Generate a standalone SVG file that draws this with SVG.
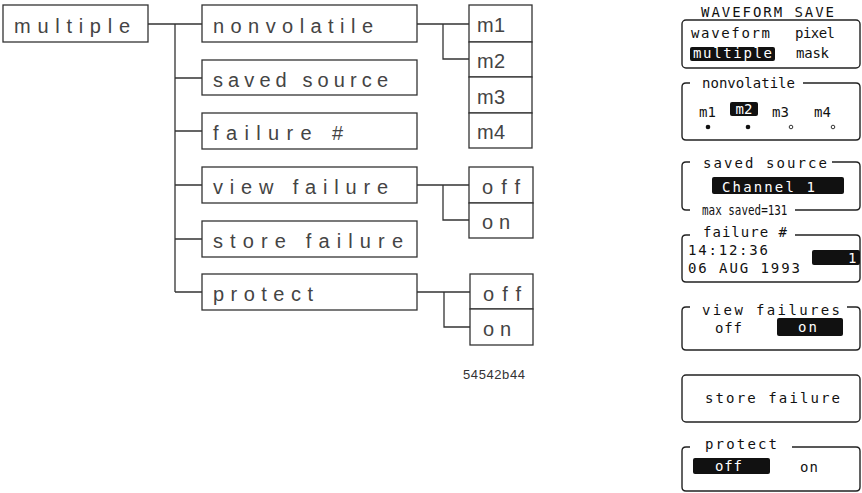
<svg xmlns="http://www.w3.org/2000/svg" width="862" height="493" viewBox="0 0 862 493">
<style>
.box{fill:#fff;stroke:#333;stroke-width:1.3}
.lbl{font-family:"Liberation Sans",Arial,sans-serif;font-size:20px;fill:#444}
.con{fill:none;stroke:#333;stroke-width:1.3}
.pb{fill:none;stroke:#222;stroke-width:1.4}
.lcd{font-family:"DejaVu Sans Mono",monospace;font-size:14px;fill:#111}
.inv{font-family:"DejaVu Sans Mono",monospace;font-size:14px;fill:#fff}
.hl{fill:#111}
.note{font-family:"Liberation Sans",Arial,sans-serif;font-size:13px;fill:#333}
</style>
<rect width="862" height="493" fill="#fff"/>
<g id="connectors">
<path class="con" d="M148,24 H202 M175,24 V292 M175,78 H202 M175,131 H202 M175,185 H202 M175,239 H202 M175,292 H202"/>
<path class="con" d="M417,24 H469 M443,24 V59 H469"/>
<path class="con" d="M417,185 H469 M443,185 V220 H469"/>
<path class="con" d="M417,292 H470 M444,292 V327 H470"/>
</g>
<g id="n-multiple"><rect class="box" x="3" y="5" width="145" height="37"/><text class="lbl" x="14" y="33" textLength="116" lengthAdjust="spacing">multiple</text></g>
<g id="n-nonvolatile"><rect class="box" x="202" y="5" width="215" height="37"/><text class="lbl" x="213" y="33" textLength="160" lengthAdjust="spacing">nonvolatile</text></g>
<g id="n-saved-source"><rect class="box" x="202" y="60" width="215" height="35"/><text class="lbl" x="213" y="87" textLength="175" lengthAdjust="spacing">saved source</text></g>
<g id="n-failure"><rect class="box" x="202" y="113" width="215" height="36"/><text class="lbl" x="213" y="140" textLength="130" lengthAdjust="spacing">failure #</text></g>
<g id="n-view-failure"><rect class="box" x="202" y="167" width="215" height="36"/><text class="lbl" x="213" y="194" textLength="175" lengthAdjust="spacing">view failure</text></g>
<g id="n-store-failure"><rect class="box" x="202" y="221" width="215" height="36"/><text class="lbl" x="213" y="248" textLength="190" lengthAdjust="spacing">store failure</text></g>
<g id="n-protect"><rect class="box" x="202" y="274" width="215" height="36"/><text class="lbl" x="213" y="301" textLength="100" lengthAdjust="spacing">protect</text></g>
<g id="n-m1"><rect class="box" x="469" y="5" width="63" height="37"/><text class="lbl" x="477" y="32" textLength="28" lengthAdjust="spacing">m1</text></g>
<g id="n-m2"><rect class="box" x="469" y="42" width="63" height="35"/><text class="lbl" x="477" y="68" textLength="28" lengthAdjust="spacing">m2</text></g>
<g id="n-m3"><rect class="box" x="469" y="77" width="63" height="36"/><text class="lbl" x="477" y="104" textLength="28" lengthAdjust="spacing">m3</text></g>
<g id="n-m4"><rect class="box" x="469" y="113" width="63" height="35"/><text class="lbl" x="477" y="139" textLength="28" lengthAdjust="spacing">m4</text></g>
<g id="n-vf-off"><rect class="box" x="469" y="167" width="64" height="36"/><text class="lbl" x="482" y="194" textLength="38" lengthAdjust="spacing">off</text></g>
<g id="n-vf-on"><rect class="box" x="469" y="203" width="64" height="35"/><text class="lbl" x="482" y="229" textLength="28" lengthAdjust="spacing">on</text></g>
<g id="n-pr-off"><rect class="box" x="470" y="274" width="63" height="35"/><text class="lbl" x="483" y="301" textLength="38" lengthAdjust="spacing">off</text></g>
<g id="n-pr-on"><rect class="box" x="470" y="309" width="63" height="36"/><text class="lbl" x="483" y="336" textLength="28" lengthAdjust="spacing">on</text></g>
<text class="note" x="463" y="379" textLength="62" lengthAdjust="spacing">54542b44</text>
<g id="panel">
<text class="lcd" x="701" y="17" textLength="133" lengthAdjust="spacing">WAVEFORM SAVE</text>
<rect class="pb" x="682" y="20" width="178" height="48" rx="4"/>
<text class="lcd" x="691" y="38" textLength="79" lengthAdjust="spacing">waveform</text>
<text class="lcd" x="795" y="38" textLength="40" lengthAdjust="spacing">pixel</text>
<rect class="hl" x="690" y="47" width="85" height="14" rx="2"/>
<text class="inv" x="693" y="58" textLength="79" lengthAdjust="spacing">multiple</text>
<text class="lcd" x="796" y="58" textLength="33" lengthAdjust="spacing">mask</text>

<path class="pb" d="M803,83 L856,83 Q860,83 860,87 L860,136 Q860,140 856,140 L686,140 Q682,140 682,136 L682,87 Q682,83 686,83 L690,83"/>
<text class="lcd" x="702" y="88" textLength="93" lengthAdjust="spacing">nonvolatile</text>
<text class="lcd" x="699" y="117">m1</text>
<rect class="hl" x="730" y="102" width="28" height="14" rx="2"/>
<text class="inv" x="735.5" y="114">m2</text>
<text class="lcd" x="772" y="117">m3</text>
<text class="lcd" x="814" y="117">m4</text>
<circle cx="708" cy="127" r="2.3" fill="#111"/>
<circle cx="748" cy="127" r="2.3" fill="#111"/>
<circle cx="791" cy="127" r="1.8" fill="none" stroke="#333" stroke-width="1"/>
<circle cx="833" cy="127" r="1.8" fill="none" stroke="#333" stroke-width="1"/>

<path class="pb" d="M832,162 L856,162 Q860,162 860,166 L860,206 Q860,210 856,210 L795,210 M690,210 L686,210 Q682,210 682,206 L682,166 Q682,162 686,162 L690,162"/>
<text class="lcd" x="703" y="168" textLength="124" lengthAdjust="spacing">saved source</text>
<rect class="hl" x="712" y="177" width="132" height="17" rx="2"/>
<text class="inv" x="722" y="192" textLength="93" lengthAdjust="spacing">Channel 1</text>
<text class="lcd" transform="translate(702,215) scale(0.78,1)" x="0" y="0">max saved=131</text>

<path class="pb" d="M795,235 L856,235 Q860,235 860,239 L860,278 Q860,282 856,282 L686,282 Q682,282 682,278 L682,239 Q682,235 686,235 L690,235"/>
<text class="lcd" x="703" y="237" textLength="84" lengthAdjust="spacing">failure #</text>
<text class="lcd" x="688" y="255" textLength="80" lengthAdjust="spacing">14:12:36</text>
<text class="lcd" x="688" y="273" textLength="112" lengthAdjust="spacing">06 AUG 1993</text>
<rect class="hl" x="812" y="250" width="48" height="15" rx="2"/>
<text class="inv" x="848" y="263">1</text>

<path class="pb" d="M847,307 L856,307 Q860,307 860,311 L860,346 Q860,350 856,350 L686,350 Q682,350 682,346 L682,311 Q682,307 686,307 L690,307"/>
<text class="lcd" x="702" y="315" textLength="138" lengthAdjust="spacing">view failures</text>
<text class="lcd" x="715" y="333" textLength="27" lengthAdjust="spacing">off</text>
<rect class="hl" x="777" y="318" width="66" height="18" rx="2"/>
<text class="inv" x="798" y="332" textLength="19" lengthAdjust="spacing">on</text>

<rect class="pb" x="682" y="375" width="178" height="47" rx="4"/>
<text class="lcd" x="705" y="403" textLength="135" lengthAdjust="spacing">store failure</text>

<path class="pb" d="M792,447 L856,447 Q860,447 860,451 L860,487 Q860,491 856,491 L686,491 Q682,491 682,487 L682,451 Q682,447 686,447 L690,447"/>
<text class="lcd" x="705" y="449" textLength="72" lengthAdjust="spacing">protect</text>
<rect class="hl" x="693" y="458" width="77" height="16" rx="2"/>
<text class="inv" x="715" y="471" textLength="27" lengthAdjust="spacing">off</text>
<text class="lcd" x="800" y="472" textLength="18" lengthAdjust="spacing">on</text>
</g>
</svg>
